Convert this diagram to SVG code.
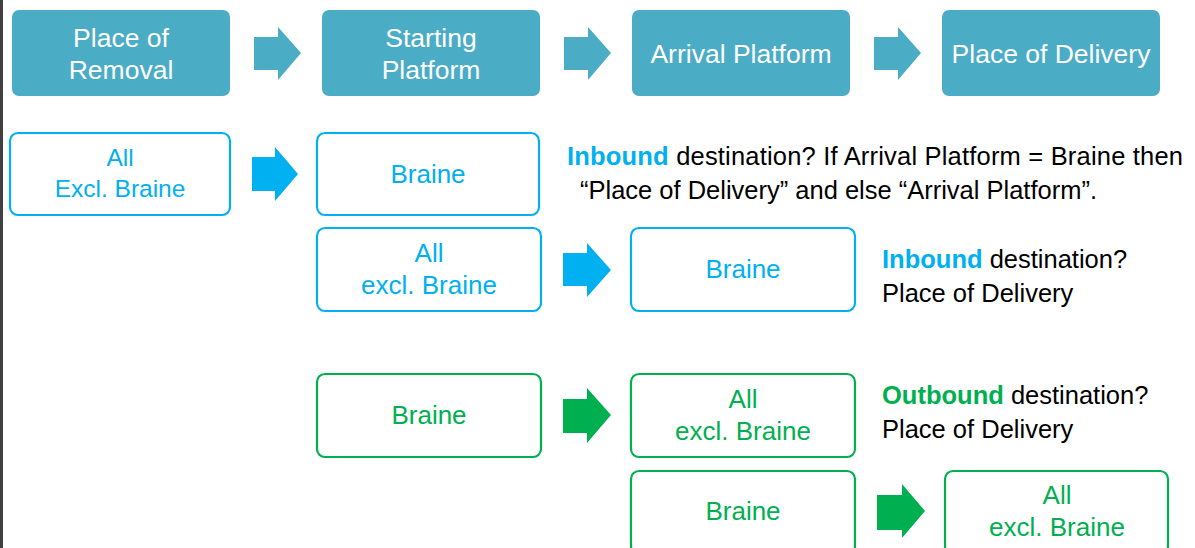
<svg xmlns="http://www.w3.org/2000/svg" width="1195" height="548" viewBox="0 0 1195 548">
<style>
.hdr{fill:#4BACC6}
.ht{fill:#ffffff;font-family:"Liberation Sans",Arial,sans-serif;font-size:26.5px;text-anchor:middle}
.cb{fill:#ffffff;stroke:#00B0F0;stroke-width:2.2}
.gb{fill:#ffffff;stroke:#00B050;stroke-width:2.2}
.ct{fill:#00B0F0;font-family:"Liberation Sans",Arial,sans-serif;font-size:26px;text-anchor:middle}
.gt{fill:#00B050;font-family:"Liberation Sans",Arial,sans-serif;font-size:26px;text-anchor:middle}
.nt{fill:#000000;font-family:"Liberation Sans",Arial,sans-serif;font-size:25.5px}
.b{font-weight:bold}
.ah{fill:#4BACC6}
.ac{fill:#00B0F0}
.ag{fill:#00B050}
</style>
<rect x="0" y="0" width="1195" height="548" fill="#ffffff"/>
<rect x="0" y="0" width="3" height="548" fill="#404040"/>
<g id="h1"><rect class="hdr" x="12" y="10" width="218" height="86" rx="7"/><text class="ht" x="121" y="47">Place of</text><text class="ht" x="121" y="79">Removal</text></g>
<g id="h2"><rect class="hdr" x="322" y="10" width="218" height="86" rx="7"/><text class="ht" x="431" y="47">Starting</text><text class="ht" x="431" y="79">Platform</text></g>
<g id="h3"><rect class="hdr" x="632" y="10" width="218" height="86" rx="7"/><text class="ht" x="741" y="63">Arrival Platform</text></g>
<g id="h4"><rect class="hdr" x="942" y="10" width="218" height="86" rx="7"/><text class="ht" x="1051" y="63">Place of Delivery</text></g>
<g id="n1"><rect class="cb" x="10" y="133" width="220" height="82" rx="8"/><text class="ct" x="120" y="166" style="font-size:24.5px">All</text><text class="ct" x="120" y="197" style="font-size:24.5px">Excl. Braine</text></g>
<g id="n2"><rect class="cb" x="317" y="133" width="222" height="82" rx="8"/><text class="ct" x="428" y="183">Braine</text></g>
<g id="n3"><rect class="cb" x="317" y="228" width="224" height="83" rx="8"/><text class="ct" x="429" y="262">All</text><text class="ct" x="429" y="294">excl. Braine</text></g>
<g id="n4"><rect class="cb" x="631" y="228" width="224" height="83" rx="8"/><text class="ct" x="743" y="278">Braine</text></g>
<g id="n5"><rect class="gb" x="317" y="374" width="224" height="83" rx="8"/><text class="gt" x="429" y="424">Braine</text></g>
<g id="n6"><rect class="gb" x="631" y="374" width="224" height="83" rx="8"/><text class="gt" x="743" y="408">All</text><text class="gt" x="743" y="440">excl. Braine</text></g>
<g id="n7"><rect class="gb" x="631" y="471" width="224" height="83" rx="8"/><text class="gt" x="743" y="520">Braine</text></g>
<g id="n8"><rect class="gb" x="945" y="471" width="223" height="83" rx="8"/><text class="gt" x="1057" y="504">All</text><text class="gt" x="1057" y="536">excl. Braine</text></g>
<g id="t1"><text class="nt" x="567" y="165" textLength="616"><tspan class="b" fill="#00B0F0">Inbound</tspan> destination? If Arrival Platform = Braine then</text><text class="nt" x="580" y="199" textLength="517">“Place of Delivery” and else “Arrival Platform”.</text></g>
<g id="t2"><text class="nt" x="882" y="268"><tspan class="b" fill="#00B0F0">Inbound</tspan> destination?</text><text class="nt" x="882" y="302">Place of Delivery</text></g>
<g id="t3"><text class="nt" x="882" y="404"><tspan class="b" fill="#00B050">Outbound</tspan> destination?</text><text class="nt" x="882" y="438">Place of Delivery</text></g>
<g id="connectors">
<polygon class="ah" points="254,37 278,37 278,27 301,53 278,80 278,70 254,70"/>
<polygon class="ah" points="564,37 588,37 588,27 611,53 588,80 588,70 564,70"/>
<polygon class="ah" points="874,37 898,37 898,27 921,53 898,80 898,70 874,70"/>
<polygon class="ac" points="252,157 275,157 275,147 298,174 275,201 275,191 252,191"/>
<polygon class="ac" points="563,253 587,253 587,243 611,270 587,297 587,286 563,286"/>
<polygon class="ag" points="563,399 587,399 587,388 611,415 587,443 587,433 563,433"/>
<polygon class="ag" points="877,495 902,495 902,484 925,511 902,538 902,530 877,530"/>
</g>
</svg>
